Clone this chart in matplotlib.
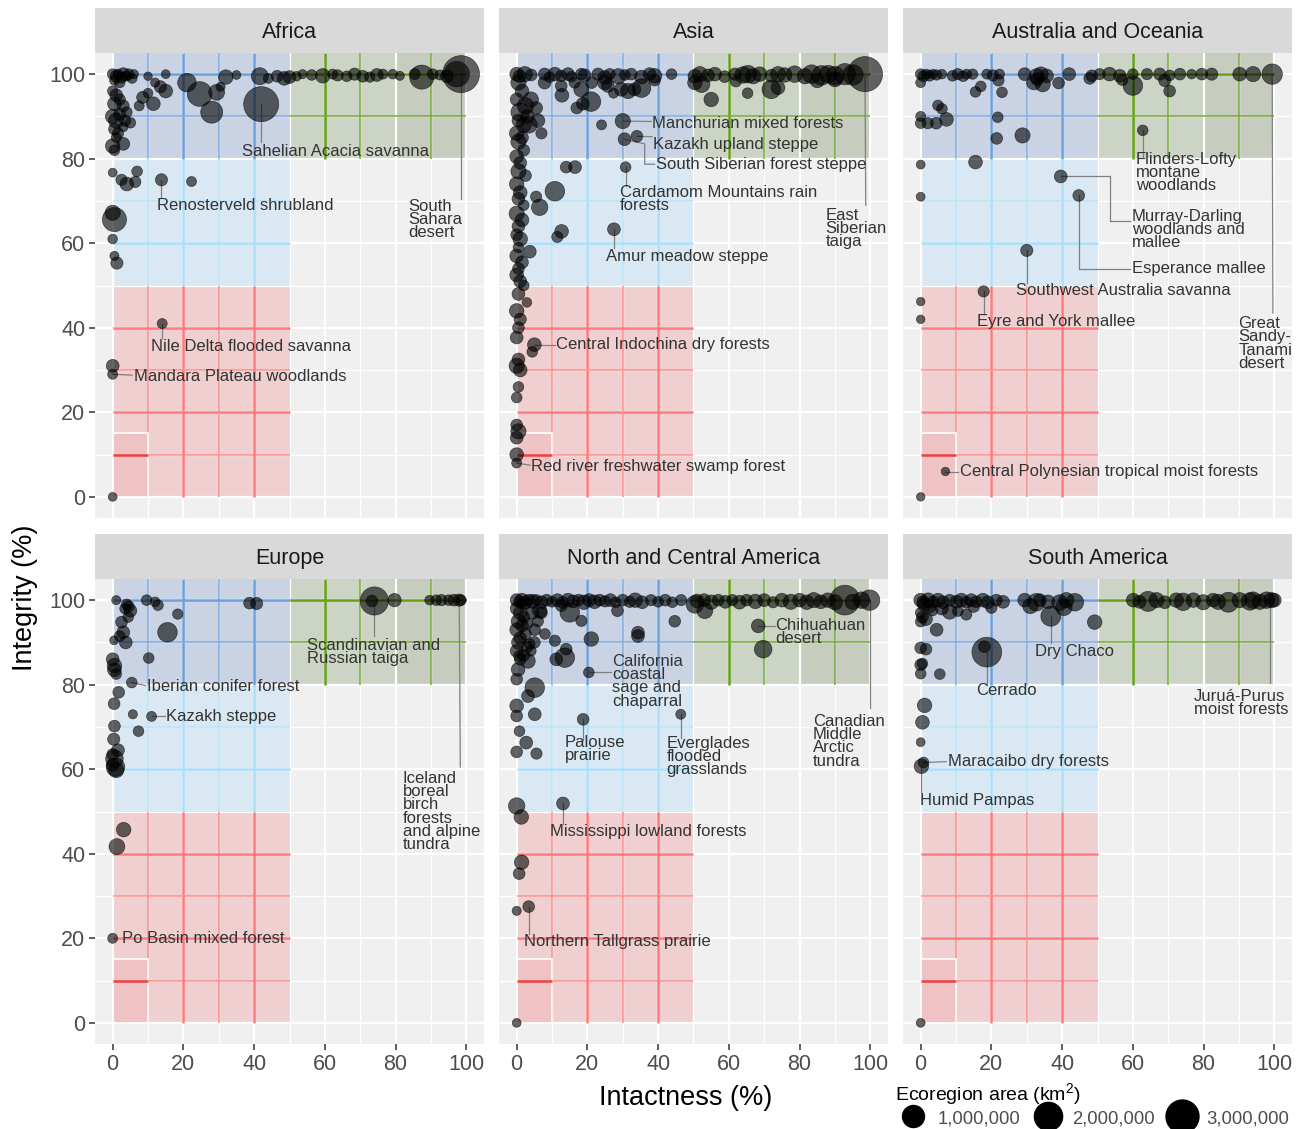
import matplotlib
matplotlib.use("Agg")
import matplotlib.pyplot as plt
from matplotlib.patches import Rectangle
from matplotlib.lines import Line2D
import numpy as np

plt.rcParams['font.family'] = ['Liberation Sans', 'DejaVu Sans']
plt.rcParams['mathtext.fontset'] = 'custom'
plt.rcParams['mathtext.rm'] = 'Liberation Sans'

#---------------- data: (intactness %, integrity %, area in 1000 km2)
regions = ["Africa", "Asia", "Australia and Oceania",
           "Europe", "North and Central America", "South America"]

africa_pts = [
    (0, 100, 60), (1, 99.5, 120), (1.5, 100, 40), (2.5, 99.2, 80), (3, 100, 150), (4, 99.5, 30),
    (4.5, 100, 60), (5.5, 99, 40), (6, 100, 20), (0.5, 98.5, 30), (2, 98, 50),
    (10, 99.5, 10), (15, 100, 15), (13.5, 97, 120), (15, 96, 200), (12, 98, 20),
    (21, 98, 600), (24.6, 95.3, 1400), (28, 91, 1000), (29.4, 95.7, 350), (30.5, 97, 20),
    (32, 99.3, 250), (35, 99.8, 15), (41.6, 99.5, 450), (42, 92.9, 3500), (44, 99, 40),
    (46.5, 99.5, 100), (48.5, 99, 200), (50, 99.3, 150),
    (52, 99.5, 30), (53.7, 100, 20), (56.3, 99.8, 60), (59.4, 99.6, 250), (62.2, 100, 40),
    (63.6, 99.7, 80), (66.2, 99.5, 60), (68.4, 100, 120), (70.7, 99.5, 100), (72.7, 99.3, 50),
    (74.7, 99.8, 150), (76.4, 100, 40), (79.2, 100, 30), (81.2, 99.6, 20), (85.4, 100, 70),
    (87.4, 99.3, 1300), (90.5, 100, 60), (92.5, 99.8, 40), (94.5, 99.5, 150), (97.3, 100, 1500),
    (98.5, 100, 4000),
    (0, 96, 50), (1, 95, 150), (2, 94, 80), (0.5, 93, 200), (3, 92.5, 100), (4, 91, 60),
    (0, 90, 250), (1, 89, 300), (2, 90.5, 120), (3.5, 89, 80), (5, 88.5, 60), (0.5, 87, 100),
    (1.5, 86, 80), (3, 87.5, 30), (8.5, 94.5, 120), (10, 95.5, 30), (11.5, 93, 200), (7.5, 92.5, 40),
    (0, 83, 250), (3, 83.5, 150), (0.5, 82, 60), (1, 85, 40),
    (0, 76.7, 15), (2.5, 75, 80), (4, 74, 200), (6.4, 74.5, 80), (6.9, 77, 60), (13.8, 75, 120),
    (22.3, 74.6, 40),
    (0.5, 65.6, 1300), (0, 67.2, 300), (0, 61, 30), (0.5, 57, 20), (1.2, 55.3, 120),
    (14, 41, 40), (0, 31, 150), (0, 29, 40), (0, 0, 15),
]

asia_pts = [
    # top row
    (0, 100, 200), (0.8, 99.5, 150), (2.3, 100, 300), (4.1, 99.8, 100), (7.9, 100, 120),
    (9.3, 99.3, 60), (10.8, 100, 200), (12.6, 99.6, 80), (14.5, 100, 150), (15.5, 99.4, 60),
    (18.3, 100, 100), (19.2, 99.7, 150), (23, 100, 120), (24.9, 99.2, 200), (26.3, 100, 80),
    (28.7, 99.5, 300), (30.6, 99.8, 60), (32.4, 100, 100), (35.3, 99.3, 200), (37.6, 100, 150),
    (39, 99.6, 250), (43.8, 100, 60), (50.4, 99.5, 200), (51.8, 100, 300), (54.1, 99.7, 150),
    (56, 100, 200), (58.8, 99.4, 100), (61.7, 100, 120), (64, 99.8, 400), (65.4, 100, 500),
    (66.9, 99.5, 300), (68.7, 100, 250), (72, 99.6, 150), (73.9, 100, 300), (75.8, 99.8, 250),
    (78.6, 100, 400), (81.5, 99.5, 300), (83.4, 100, 600), (86.2, 99.7, 700), (88.1, 100, 500),
    (90, 99.6, 600), (92.8, 100, 900), (95.1, 99.8, 800), (98.5, 100, 3500),
    # second row
    (7.9, 98, 150), (12.6, 97.2, 100), (16.4, 98, 80), (18.3, 96.4, 300), (21.2, 98, 100),
    (24.9, 98, 250), (25.8, 97.2, 150), (29.6, 96.4, 200), (31.5, 96, 300), (33.3, 96.4, 150),
    (35.3, 96.7, 600), (39, 98.6, 100), (50.4, 98, 250), (52.3, 97.6, 400), (55, 94, 250),
    (65.3, 95.5, 60), (72, 96.4, 600), (73.9, 96.8, 200), (62, 98.3, 80), (85, 98.5, 250),
    (90, 98.8, 300),
    # scattered
    (4, 94, 300), (5.5, 92, 150), (6, 89, 200), (3.5, 88, 400), (7, 86, 80), (24, 88, 40),
    (27.4, 95.5, 40), (21, 93.5, 700), (18.7, 93, 150), (17, 92, 100), (12.8, 95, 200),
    (14, 78, 100), (16.5, 78, 150), (10.8, 72.3, 700), (6.5, 68.5, 400), (5.5, 71, 80),
    (12.7, 62.8, 200), (11.5, 61.5, 80), (3.7, 58, 150), (30, 88.9, 300), (30.5, 84.6, 150),
    (34, 85.3, 100), (30.8, 78, 60), (27.5, 63.3, 150), (2.9, 46, 30), (5, 36, 200), (4.4, 34.3, 60),
    # left column
    (0.5, 98, 300), (1.5, 96, 200), (0, 94, 150), (2.5, 92.5, 400), (1, 91, 600), (3, 90, 200),
    (0.5, 89, 150), (2, 88, 300), (0, 86, 250), (1.5, 85, 150), (0.5, 84, 300), (2, 82, 100),
    (0, 80.5, 200), (1, 79, 150), (0.5, 77, 300), (2.5, 76, 100), (0, 74, 250), (1, 72, 200),
    (0.5, 70.5, 150), (2, 69, 60), (0, 67, 300), (1.5, 65.5, 200), (0.5, 64, 150), (0, 62, 100),
    (1, 61, 250), (0.5, 59, 60), (0, 57, 200), (1.5, 55.5, 150), (0.5, 54, 100), (0, 52.5, 200),
    (1, 51, 150), (2, 50, 60), (0.5, 48, 150), (0, 44, 250), (1, 42, 120), (0.5, 40, 100),
    (0, 37.7, 150), (0.5, 32.5, 150), (0, 31, 300), (1, 30, 200), (0.5, 26, 60), (0, 23.5, 60),
    (0, 17, 100), (0.5, 15.5, 300), (0, 14, 150), (0, 10, 200), (0, 8, 40),
]

oceania_pts = [
    (0, 100, 60), (0.8, 99.5, 80), (1.6, 100, 40), (2.5, 99.6, 60), (3.5, 100, 30), (4.5, 99.8, 50),
    (6, 100, 30), (9, 99.6, 60), (10.5, 100, 80), (12, 99.5, 60), (13, 100, 40), (14.7, 100, 50),
    (18.7, 100, 40), (20.4, 99.7, 80), (22.3, 100, 40), (29.4, 100, 150), (32.8, 99.5, 300),
    (34, 100, 250), (35.6, 99.6, 200), (42, 100, 150), (48.4, 99.6, 100), (50.6, 100, 80),
    (53.4, 100, 200), (56.3, 99.6, 150), (60, 100, 60), (64, 100, 80), (67.6, 100, 120),
    (70.4, 99.7, 60), (73.3, 100, 100), (76.6, 100, 30), (79.5, 100, 100), (82.3, 100, 120),
    (90.2, 100, 200), (94, 100, 300), (99.4, 100, 800),
    (0, 98, 40), (17, 97.1, 60), (15.5, 95.8, 60), (23, 95.7, 60), (22, 98.5, 80), (32, 98, 250),
    (34.5, 97.6, 300), (33, 98.8, 150), (39, 97.9, 100), (60, 97.3, 700), (69, 98.5, 120),
    (70.4, 96, 100), (57, 98.7, 100), (47.8, 99, 100),
    (0, 90, 40), (0, 88.4, 60), (2, 88.4, 80), (4.4, 88.4, 100), (4.9, 92.6, 60), (6, 91.8, 60),
    (7.3, 89.3, 200), (21.8, 89.8, 60), (21.5, 84.8, 100), (28.8, 85.5, 300), (62.8, 86.7, 60),
    (15.5, 79.2, 200), (0, 78.6, 15), (0, 71, 15), (39.6, 75.8, 150), (44.7, 71.3, 100),
    (30, 58.3, 120), (17.8, 48.6, 80), (0, 46.2, 10), (0, 42, 10), (7, 6, 10), (0, 0, 10),
]

europe_pts = [
    (1, 100, 20), (4, 99, 60), (4.5, 98.5, 80), (5, 97.5, 150), (3.5, 98, 60), (9.6, 100, 60),
    (12, 99.6, 30), (12.8, 98.8, 60), (18.4, 96.7, 50), (15.5, 92.4, 700), (4.4, 96, 60),
    (2.5, 94.8, 100), (3, 92.4, 150), (2, 91.5, 60), (0.4, 90.5, 15), (3.7, 90, 150),
    (10.2, 86.3, 60), (0, 86, 150), (0.5, 84.5, 250), (0.5, 83.5, 200), (1, 82.5, 60),
    (5.4, 80.5, 60), (1.7, 78.2, 100), (0.4, 75.5, 100), (5.7, 73, 20), (11, 72.5, 40),
    (7.3, 69, 60), (0.5, 70.2, 100), (0.3, 67.1, 120), (1.5, 64.5, 150), (0.5, 62.5, 500),
    (0.8, 60.5, 600), (0, 61, 150), (0, 63.5, 100), (1, 59.8, 300),
    (38.7, 99.3, 100), (40.7, 99.2, 120), (73.3, 99.8, 100), (74, 99.8, 2000), (79.7, 100, 180),
    (89.6, 100, 30), (91.5, 100, 60), (93, 100, 80), (95, 100, 60), (96.5, 100, 100),
    (98, 100, 120), (98.5, 100, 60),
    (3.1, 45.7, 250), (1.2, 41.7, 350), (0, 20, 40),
]

ncamerica_pts = [
    (0, 100, 150), (0.8, 99.6, 100), (1.5, 100, 200), (2.5, 99.5, 150), (3.5, 100, 100),
    (4.5, 99.7, 200), (5.5, 100, 80), (7, 99.5, 150), (8.5, 100, 100), (10, 99.6, 60),
    (11.5, 100, 150), (13, 99.5, 100), (14.5, 100, 200), (16, 99.7, 150), (17.5, 100, 100),
    (19, 99.5, 250), (20.5, 100, 150), (22, 99.6, 200), (23.5, 100, 100), (25, 99.7, 80),
    (26.5, 100, 150), (28, 99.5, 60), (30, 100, 100), (32, 99.6, 80), (33.5, 100, 250),
    (35.5, 99.5, 150), (38, 100, 80), (40, 99.6, 60), (42, 100, 100), (44, 99.5, 60),
    (46.5, 100, 80), (51, 99.8, 200), (53, 100, 150), (55, 99.5, 250), (57, 100, 100),
    (59, 99.6, 150), (61, 100, 80), (63, 99.5, 200), (65, 100, 100), (67.5, 99.7, 250),
    (70, 100, 150), (72.5, 99.5, 80), (75, 100, 200), (77.5, 99.6, 300), (80, 100, 200),
    (82, 99.5, 250), (84, 100, 300), (86, 99.6, 200), (88, 100, 250), (90, 99.5, 300),
    (92.8, 100, 2300), (95, 99.6, 300), (97.5, 100, 400), (99.8, 100, 800),
    (0, 98, 150), (1, 97, 200), (2, 96, 100), (0.5, 95, 250), (1.5, 94, 150), (0, 93, 200),
    (2.5, 92, 100), (1, 91, 150), (0.5, 90, 200), (3, 89, 100), (0, 88, 150), (2, 87, 120),
    (1, 86, 100), (4, 88, 60), (5, 90, 100), (6, 95, 80), (7, 97, 100), (8, 92, 60),
    (3, 94.5, 80), (4.5, 97, 150), (2, 99, 100), (6.5, 97.5, 250), (5.1, 93, 100),
    (3.7, 89.6, 60), (3.2, 85.6, 250), (0.8, 86.8, 100), (0.4, 83.6, 200), (0, 81.3, 100),
    (5.1, 79.3, 700), (3.2, 77.3, 150), (0, 75, 200), (0, 72.6, 100), (5.1, 73, 150),
    (2.7, 66.3, 150), (0.8, 69, 60), (0, 64.1, 100), (5.6, 63.7, 80),
    (50.4, 99, 500), (53.2, 97.5, 350), (44.7, 95, 100), (34.3, 91.5, 150), (34.3, 92.3, 150),
    (28.5, 97.5, 100), (21.1, 90.8, 250), (18.3, 95.1, 80), (13.6, 86.4, 700), (11.2, 86, 150),
    (14, 88.4, 100), (10.8, 90.4, 80), (15, 97.1, 700), (12.6, 98.7, 100), (20.4, 82.9, 60),
    (68.3, 93.9, 200), (69.7, 88.4, 500), (18.8, 71.8, 100), (46.4, 73, 40), (13.1, 51.9, 150),
    (0, 51.3, 400), (1.3, 48.7, 250), (1.4, 38, 250), (0.7, 35.3, 100), (0, 26.5, 20),
    (3.4, 27.5, 100), (0, 0, 15),
]

samerica_pts = [
    (0, 100, 200), (0.7, 99.5, 150), (2.1, 100, 250), (3.5, 99.6, 100), (4.9, 100, 200),
    (6.3, 99.5, 150), (8.2, 100, 100), (10.1, 99.6, 150), (11.5, 100, 200), (12.9, 99.5, 100),
    (14.3, 100, 150), (15.7, 99.6, 100), (17.6, 100, 200), (19, 99.5, 150), (21.4, 100, 100),
    (23.3, 99.6, 150), (29.4, 100, 200), (32.7, 99.5, 500), (33.7, 100, 150), (36, 99.6, 200),
    (39.3, 99.4, 350), (41.2, 100, 300), (43.6, 99.5, 500), (60.1, 100, 200), (61.9, 99.6, 150),
    (64.3, 99.7, 750), (66.7, 100, 300), (69, 99.5, 150), (72.3, 100, 250), (74.2, 99.6, 500),
    (77.1, 100, 250), (79.9, 99.5, 300), (82.7, 100, 200), (84.1, 99.6, 300), (87, 99.5, 750),
    (90.2, 100, 300), (93.1, 99.7, 500), (94, 100, 400), (95.9, 99.6, 300), (97.8, 100, 400),
    (99.2, 100, 300), (100, 100, 200),
    (36.8, 96.2, 750), (18.7, 87.7, 2300), (18, 89, 100), (49.2, 94.8, 250), (4.5, 93, 150),
    (0, 94.9, 60), (0, 97, 60), (3.3, 97.6, 80), (8.2, 97.2, 250), (12.9, 96.6, 80),
    (10.5, 97.4, 60), (0, 88.7, 100), (1.5, 88.4, 100), (0, 84.7, 100), (0.5, 85, 60),
    (0, 82.6, 60), (5.4, 82.5, 60), (1.1, 75.1, 250), (0.5, 71.1, 200), (0, 66.4, 15),
    (0.2, 60.7, 250), (0.8, 61.6, 60), (0, 0, 15), (1, 99, 200), (2.5, 98.5, 150),
    (6, 98, 150), (40.5, 98.3, 400), (31, 98.6, 300), (15, 98.5, 100), (20, 98.2, 80),
    (0.5, 96, 100), (1.5, 95.5, 150),
]

points = [africa_pts, asia_pts, oceania_pts, europe_pts, ncamerica_pts, samerica_pts]

#---------------- labelled ecoregions: text, point, text anchor, connector bends
africa_labels = [
    ("Sahelian Acacia savanna", (42, 92.9), (36.5, 81.8), [(42, 84)]),
    ("Renosterveld shrubland", (13.8, 75), (12.4, 69), [(13.8, 71)]),
    ("South\nSahara\ndesert", (98.5, 100), (83.7, 65.6), [(98.5, 70.5)]),
    ("Nile Delta flooded savanna", (14, 41), (10.7, 35.5), [(14, 37.5)]),
    ("Mandara Plateau woodlands", (0, 29), (5.9, 28.4), [(5.5, 28.8)]),
]
asia_labels = [
    ("Manchurian mixed forests", (30, 88.9), (38.2, 88.4), [(38, 88.8)]),
    ("Kazakh upland steppe", (34, 85.3), (38.5, 83.4), [(38.3, 85.2)]),
    ("South Siberian forest steppe", (30.5, 84.6), (39.3, 78.7), [(36.2, 83.5), (36.2, 78.7), (39, 78.7)]),
    ("Cardamom Mountains rain\nforests", (30.8, 78), (29.1, 70.4), [(30.8, 73.5)]),
    ("Amur meadow steppe", (27.5, 63.3), (25.2, 56.9), [(27.5, 58.8)]),
    ("East\nSiberian\ntaiga", (98.5, 100), (87.4, 63.5), [(98.7, 69)]),
    ("Central Indochina dry forests", (5, 36), (11, 36), [(10.7, 36)]),
    ("Red river freshwater swamp forest", (0, 8), (4, 7.1), [(3.8, 7.5)]),
]
oceania_labels = [
    ("Flinders-Lofty\nmontane\nwoodlands", (62.8, 86.7), (60.8, 76.8), [(62.8, 80.5)]),
    ("Murray-Darling\nwoodlands and\nmallee", (39.6, 75.8), (59.7, 63.3), [(53.4, 75.8), (53.4, 65.3), (59.2, 65.3)]),
    ("Esperance mallee", (44.7, 71.3), (59.7, 54), [(44.7, 54), (59.2, 54)]),
    ("Southwest Australia savanna", (30, 58.3), (26.9, 48.8), [(30, 50.5)]),
    ("Eyre and York mallee", (17.8, 48.6), (15.8, 41.5), [(17.8, 43.3)]),
    ("Central Polynesian tropical moist forests", (7, 6), (11, 5.9), [(10.6, 6)]),
    ("Great\nSandy-\nTanami\ndesert", (99.4, 100), (89.9, 36.3), [(99.6, 43.5)]),
]
europe_labels = [
    ("Scandinavian and\nRussian taiga", (74, 99.8), (54.9, 87.7), [(74, 91.5)]),
    ("Iceland\nboreal\nbirch\nforests\nand alpine\ntundra", (98, 100), (82, 50), [(98.3, 60.5)]),
    ("Iberian conifer forest", (5.4, 80.5), (9.6, 79.6), [(9.3, 79.8)]),
    ("Kazakh steppe", (11, 72.5), (15, 72.5), [(14.7, 72.5)]),
    ("Po Basin mixed forest", (0, 20), (2.5, 19.9), []),
]
ncamerica_labels = [
    ("Chihuahuan\ndesert", (68.3, 93.9), (73.2, 92.4), [(73, 93.9)]),
    ("California\ncoastal\nsage and\nchaparral", (20.4, 82.9), (26.9, 80.8), [(26.6, 82.9)]),
    ("Palouse\nprairie", (18.8, 71.8), (13.6, 64.7), [(18.8, 67)]),
    ("Everglades\nflooded\ngrasslands", (46.4, 73), (42.4, 63), [(46.4, 67.3)]),
    ("Canadian\nMiddle\nArctic\ntundra", (99.8, 100), (83.7, 66.6), [(99.8, 74.6)]),
    ("Mississippi lowland forests", (13.1, 51.9), (9.3, 45.3), [(13.1, 47)]),
    ("Northern Tallgrass prairie", (3.4, 27.5), (2, 19.2), [(3.4, 21)]),
]
samerica_labels = [
    ("Dry Chaco", (36.8, 96.2), (32.2, 87.9), [(36.8, 89.8)]),
    ("Cerrado", (18.7, 87.7), (15.6, 78.7), [(18.7, 80.5)]),
    ("Juruá-Purus\nmoist forests", (98.7, 100), (77.2, 75.6), [(98.7, 80.5)]),
    ("Maracaibo dry forests", (0.8, 61.6), (7.6, 61.8), [(7.2, 61.8)]),
    ("Humid Pampas", (0.2, 60.7), (-0.3, 52.6), [(0.2, 54.5)]),
]
labels = [africa_labels, asia_labels, oceania_labels, europe_labels, ncamerica_labels, samerica_labels]

legend_areas = [1000, 2000, 3000]
legend_text = ["1,000,000", "2,000,000", "3,000,000"]


def diam_px(a):
    # area (1000 km2) -> point diameter in pixels, sqrt scale like ggplot
    return 7 + 15 * np.sqrt(np.asarray(a, dtype=float) / 1000.0)


def shade(ax, x0, x1, y0, y1, fill, cmaj, cmin):
    ax.add_patch(Rectangle((x0, y0), x1 - x0, y1 - y0, facecolor=fill,
                           edgecolor='none', zorder=0.3))
    for g in range(10, 101, 10):
        c, lw = (cmaj, 1.8) if g % 20 == 0 else (cmin, 1.15)
        if x0 < g < x1:
            ax.vlines(g, y0, y1, color=c, lw=lw, zorder=0.6)
        if y0 < g < y1:
            ax.hlines(g, x0, x1, color=c, lw=lw, zorder=0.6)


W, H = 1301, 1129
fig = plt.figure(figsize=(W / 100, H / 100), dpi=100)
lefts = [95, 499, 903]
tops = [53, 579]
pw, ph, sh = 389, 465, 45

for i, name in enumerate(regions):
    r, c = divmod(i, 3)
    l, t = lefts[c], tops[r]
    ax = fig.add_axes([l / W, 1 - (t + ph) / H, pw / W, ph / H])
    ax.set_facecolor('#f0f0f0')
    for s in ax.spines.values():
        s.set_visible(False)
    ax.set_xlim(-5, 105)
    ax.set_ylim(-5, 105)
    ax.set_xticks([0, 20, 40, 60, 80, 100])
    ax.set_yticks([0, 20, 40, 60, 80, 100])
    ax.set_xticks([10, 30, 50, 70, 90], minor=True)
    ax.set_yticks([10, 30, 50, 70, 90], minor=True)
    ax.set_axisbelow(True)
    ax.grid(which='major', color='white', lw=1.6)
    ax.grid(which='minor', color='white', lw=0.9)
    ax.tick_params(which='minor', length=0)
    ax.tick_params(which='major', length=4, width=1.1, color='#333333',
                   labelsize=15.5, labelcolor='#4d4d4d', pad=3)
    if r == 0:
        ax.tick_params(axis='x', length=0, labelbottom=False)
    if c > 0:
        ax.tick_params(axis='y', length=0, labelleft=False)

    # quadrant shading
    shade(ax, 0, 50, 80, 105, '#c9d3e3', '#6aa0dc', '#80ade0')
    shade(ax, 50, 80, 80, 105, '#ccd5c5', '#64a010', '#7aab38')
    shade(ax, 80, 100, 80, 105, '#c6ccbe', '#64a010', '#7aab38')
    shade(ax, 0, 50, 50, 80, '#d9e8f2', '#aadffb', '#b8e3fa')
    shade(ax, 0, 50, 0, 50, '#f0cfd0', '#ff7a7a', '#ff9090')
    ax.add_patch(Rectangle((0, 0), 10, 15, facecolor='#efc3c4', edgecolor='white',
                           lw=1.2, zorder=0.7))
    ax.hlines(10, 0, 10, color='#f04040', lw=1.8, zorder=0.75)

    px, py, pa = zip(*points[i])
    ax.scatter(px, py, s=(diam_px(pa) * 0.72) ** 2, c='black', alpha=0.6,
               edgecolors='black', linewidths=0.5, zorder=2)

    for text, pt, anchor, bends in labels[i]:
        path = [pt] + bends
        if len(path) > 1:
            xs, ys = zip(*path)
            ax.plot(xs, ys, color='#808080', lw=0.9, zorder=1.9)
        ax.text(anchor[0], anchor[1], text, ha='left', va='center', fontsize=12,
                color='#333333', linespacing=0.85, zorder=3)

    sax = fig.add_axes([l / W, 1 - t / H, pw / W, sh / H])
    sax.set_facecolor('#d9d9d9')
    sax.set_xticks([])
    sax.set_yticks([])
    for s in sax.spines.values():
        s.set_visible(False)
    sax.text(0.5, 0.45, name, ha='center', va='center', fontsize=15.5,
             color='#1a1a1a', transform=sax.transAxes)

fig.text(686 / W, 1 - 1098 / H, 'Intactness (%)', ha='center', va='center',
         fontsize=19.5)
fig.text(25 / W, 1 - 598 / H, 'Integrity (%)', ha='center', va='center',
         fontsize=19.5, rotation=90)

handles = [Line2D([], [], marker='o', ls='none', color='black',
                  markersize=float(diam_px(a)) * 0.72) for a in legend_areas]
leg = fig.legend(handles, legend_text, title=r'Ecoregion area (km$^{2}$)', ncol=3,
                 loc='upper left', bbox_to_anchor=(895 / W, 1 - 1081 / H),
                 frameon=False, fontsize=13.3, title_fontsize=14, alignment='left',
                 handletextpad=0.3, columnspacing=0.5, borderpad=0, borderaxespad=0,
                 handleheight=1.0)
for t in leg.get_texts():
    t.set_color('#4d4d4d')
leg._legend_box.sep = 1

fig.savefig('out.png', dpi=100)
